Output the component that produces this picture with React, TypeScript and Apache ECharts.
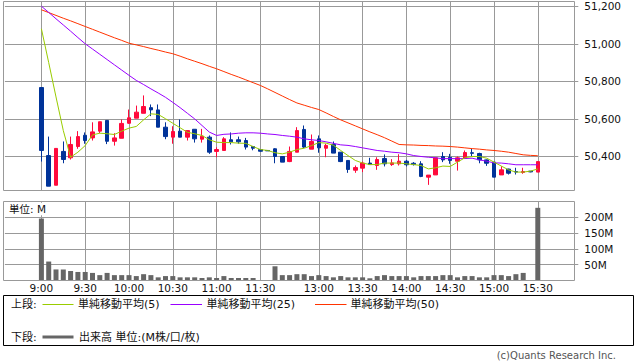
import React, { useEffect, useRef } from 'react';
import * as echarts from 'echarts';

// ---- data (5-minute bars, slot order) ----
const times = [
  '9:00','9:05','9:10','9:15','9:20','9:25','9:30','9:35','9:40','9:45','9:50','9:55',
  '10:00','10:05','10:10','10:15','10:20','10:25','10:30','10:35','10:40','10:45','10:50','10:55',
  '11:00','11:05','11:10','11:15','11:20','11:25','11:30','12:25',
  '12:30','12:35','12:40','12:45','12:50','12:55',
  '13:00','13:05','13:10','13:15','13:20','13:25','13:30','13:35','13:40','13:45','13:50','13:55',
  '14:00','14:05','14:10','14:15','14:20','14:25','14:30','14:35','14:40','14:45','14:50','14:55',
  '15:00','15:05','15:10','15:15','15:20','15:25','15:30'
];
const openP = [
  50767,50405,50247,50427,50393,50453,50513,50499,50535,50592,50481,50497,
  50577,50604,50630,50660,50648,50556,50503,50535,50503,50545,50492,50503,
  50427,50432,50489,50489,50485,50453,50437,50432,
  50441,50400,50373,50423,50544,50439,
  50494,50444,50464,50423,50379,50327,50338,50365,50352,50389,50357,50361,
  50375,50364,50361,50290,50302,50400,50396,50375,50391,50420,50416,50382,
  50370,50302,50333,50320,50315,50322,50317
];
const closeP = [
  50432,50242,50443,50384,50464,50506,50485,50531,50585,50481,50499,50576,
  50606,50636,50666,50648,50556,50506,50533,50503,50538,50494,50508,50423,
  50437,50494,50478,50478,50450,50444,50428,50430,
  50400,50370,50427,50538,50450,50480,
  50446,50459,50418,50373,50331,50341,50365,50357,50384,50361,50366,50375,
  50356,50357,50294,50301,50393,50382,50379,50393,50421,50417,50382,50364,
  50290,50329,50311,50317,50320,50318,50373
];
const lowP = [
  50373,50242,50247,50364,50384,50441,50468,50485,50524,50466,50458,50497,
  50574,50604,50630,50615,50556,50492,50468,50503,50485,50474,50474,50414,
  50396,50432,50464,50468,50437,50433,50426,50430,
  50364,50370,50370,50423,50445,50439,
  50420,50396,50418,50370,50313,50313,50317,50355,50329,50347,50350,50352,
  50347,50352,50290,50249,50302,50370,50361,50325,50389,50402,50364,50350,
  50290,50302,50304,50304,50308,50316,50317
];
const highP = [
  50767,50506,50443,50480,50506,50535,50528,50582,50585,50592,50524,50597,
  50650,50671,50725,50677,50677,50582,50561,50597,50538,50545,50547,50512,
  50449,50503,50528,50506,50499,50456,50439,50432,
  50444,50400,50453,50556,50565,50517,
  50512,50467,50480,50423,50379,50352,50373,50393,50396,50411,50386,50412,
  50382,50370,50375,50301,50393,50423,50414,50400,50432,50441,50420,50384,
  50370,50348,50335,50340,50340,50322,50373
];
const volumeM = [
  196,60,35,35,30,27,27,24,17,24,17,17,
  17,14,20,17,10,14,14,10,10,10,8,10,
  8,14,8,8,8,8,1.5,0,
  45,17,17,20,20,14,
  17,14,10,14,10,10,10,7,14,17,14,14,
  14,10,14,14,14,17,17,10,14,14,10,10,
  17,17,14,20,24,1,230
];
const ma5 = [
  51080,50900,50717,50538,50396,50423,50458,50515,50524,50521,50517,50535,
  50551,50560,50595,50627,50624,50601,50577,50553,50529,50521,50512,50489,
  50476,50474,50474,50471,50470,50453,50437,50432,
  50420,50414,50423,50437,50444,50458,
  50474,50471,50460,50432,50405,50379,50365,50357,50357,50365,50365,50365,
  50361,50357,50352,50334,50340,50349,50347,50370,50393,50400,50400,50391,
  50370,50349,50329,50317,50317,50322,50334
];
const ma25 = [
  51200,51167,51133,51100,51067,51033,51000,50972,50944,50916,50888,50860,
  50832,50805,50783,50760,50738,50715,50688,50660,50630,50600,50565,50530,
  50512,50518,50520,50524,50526,50526,50524,50520,
  50517,50512,50508,50503,50494,50489,
  50485,50478,50470,50462,50459,50453,50446,50439,50432,50428,50423,50420,
  50414,50405,50400,50396,50393,50388,50389,50388,50389,50391,50382,50375,
  50366,50365,50361,50356,50356,50356,50356
];
const ma50 = [
  51181,51166,51151,51136,51122,51107,51092,51077,51062,51047,51032,51018,
  51003,50994,50985,50975,50966,50956,50947,50934,50920,50907,50894,50880,
  50867,50852,50837,50823,50808,50793,50778,50760,
  50741,50722,50703,50685,50673,50661,
  50650,50632,50613,50595,50579,50563,50547,50531,50516,50500,50482,50464,
  50462,50461,50459,50458,50456,50455,50453,50450,50446,50442,50439,50435,
  50432,50428,50423,50416,50409,50406,50404
];
const timeLabels = ['9:00','9:30','10:00','10:30','11:00','11:30','13:00','13:30','14:00','14:30','15:00','15:30'];
const priceTicks = [50400, 50600, 50800, 51000, 51200];
const volumeTicks = [50, 100, 150, 200];

const PAD = 5;
const UP = '#ff0a3c';
const DOWN = '#003399';
const C5 = '#99cc00';
const C25 = '#9900ff';
const C50 = '#ff3300';
const GRID = '#999999';
const VOL = '#666666';
const NUM_FONT = '"DejaVu Sans", "Noto Sans CJK JP", sans-serif';
const JP_FONT = '"DejaVu Sans", "Noto Sans CJK JP", sans-serif';

function pad<T>(arr: T[], filler: any): any[] {
  const a = Array.from({ length: PAD }, (_, i) => (typeof filler === 'function' ? filler('a' + i) : filler));
  const b = Array.from({ length: PAD }, (_, i) => (typeof filler === 'function' ? filler('b' + i) : filler));
  return [...a, ...arr, ...b];
}

export default function App() {
  const ref = useRef<HTMLDivElement>(null);
  useEffect(() => {
    if (!ref.current) return;
    const chart = echarts.init(ref.current, undefined, { renderer: 'svg' });
    const cats = pad(times, (k: string) => k);
    const candleData = pad(
      times.map((_, i) => [openP[i], closeP[i], lowP[i], highP[i]]),
      ['-', '-', '-', '-']
    );
    const isLabel = (_i: number, v: string) => timeLabels.indexOf(v) >= 0;
    const gridL = 4.9;
    const gridW = 569.4;

    const text = (t: string, x: number, y: number, extra: any = {}) => ({
      type: 'text',
      x,
      y,
      z: 100,
      style: {
        text: t,
        fill: extra.fill || '#111',
        font: extra.font || `11px ${JP_FONT}`,
        align: extra.align || 'left',
        textAlign: extra.align || 'left',
        verticalAlign: 'middle',
        textVerticalAlign: 'middle',
        ...(extra.bg ? { backgroundColor: extra.bg, padding: [1, 2] } : {}),
      },
    });
    const line = (x1: number, x2: number, y: number, color: string, w = 1) => ({
      type: 'line',
      z: 100,
      shape: { x1, y1: y, x2, y2: y },
      style: { stroke: color, lineWidth: w },
    });

    chart.setOption({
      animation: false,
      backgroundColor: '#ffffff',
      grid: [
        { left: gridL, top: 1.5, width: gridW, height: 189 },
        { left: gridL, top: 201.5, width: gridW, height: 79 },
      ],
      xAxis: [
        {
          type: 'category', gridIndex: 0, data: cats, boundaryGap: false,
          axisLine: { show: false }, axisTick: { show: false }, axisLabel: { show: false },
          splitLine: { show: true, interval: isLabel, lineStyle: { color: GRID, width: 1 } },
        },
        {
          type: 'category', gridIndex: 1, data: cats, boundaryGap: false,
          axisLine: { show: false }, axisTick: { show: false },
          axisLabel: {
            show: true, interval: isLabel, margin: 2, color: '#111',
            fontSize: 10.5, fontFamily: NUM_FONT, formatter: (v: string) => v,
          },
          splitLine: { show: true, interval: isLabel, lineStyle: { color: GRID, width: 1 } },
        },
      ],
      yAxis: [
        {
          type: 'value', gridIndex: 0, position: 'right', min: 50219, max: 51225, scale: true,
          axisLine: { show: false },
          axisTick: { show: true, length: 4, lineStyle: { color: GRID }, customValues: priceTicks },
          axisLabel: {
            show: true, margin: 10, color: '#111', fontSize: 10.5, fontFamily: NUM_FONT,
            customValues: priceTicks,
            formatter: (v: number) => v.toLocaleString('en-US'),
          },
          splitLine: { show: true, lineStyle: { color: GRID, width: 1 } },
        },
        {
          type: 'value', gridIndex: 1, position: 'right', min: 0, max: 250, interval: 50,
          axisLine: { show: false },
          axisTick: { show: true, length: 4, lineStyle: { color: GRID }, customValues: volumeTicks },
          axisLabel: {
            show: true, margin: 10, color: '#111', fontSize: 10.5, fontFamily: NUM_FONT,
            customValues: volumeTicks,
            formatter: (v: number) => `${v}M`,
          },
          splitLine: { show: true, lineStyle: { color: GRID, width: 1 } },
        },
      ],
      series: [
        {
          type: 'candlestick', xAxisIndex: 0, yAxisIndex: 0, data: candleData, barWidth: 4,
          itemStyle: {
            color: UP, color0: DOWN, borderColor: UP, borderColor0: DOWN,
            borderColorDoji: DOWN, borderWidth: 1,
          },
          silent: true,
        },
        {
          type: 'line', xAxisIndex: 0, yAxisIndex: 0, data: pad(ma50, '-'), symbol: 'none',
          lineStyle: { color: C50, width: 1 }, silent: true,
        },
        {
          type: 'line', xAxisIndex: 0, yAxisIndex: 0, data: pad(ma25, '-'), symbol: 'none',
          lineStyle: { color: C25, width: 1 }, silent: true,
        },
        {
          type: 'line', xAxisIndex: 0, yAxisIndex: 0, data: pad(ma5, '-'), symbol: 'none',
          lineStyle: { color: C5, width: 1 }, silent: true,
        },
        {
          type: 'bar', xAxisIndex: 1, yAxisIndex: 1, data: pad(volumeM, '-'), barWidth: 5,
          itemStyle: { color: VOL }, silent: true,
        },
      ],
      graphic: [
        { type: 'rect', z: 50, shape: { x: 3.5, y: 1.5, width: 571, height: 189 }, style: { fill: 'none', stroke: GRID, lineWidth: 1 } },
        { type: 'rect', z: 50, shape: { x: 3.5, y: 201.5, width: 571, height: 79 }, style: { fill: 'none', stroke: GRID, lineWidth: 1 } },
        text('単位: M', 7, 209, { bg: '#ffffff', font: `10.5px ${JP_FONT}` }),
        { type: 'rect', z: 50, shape: { x: 3.5, y: 295.5, width: 630, height: 50 }, style: { fill: 'none', stroke: '#000', lineWidth: 1 } },
        text('上段:', 11, 304),
        line(42.5, 73.5, 304.5, C5),
        text('単純移動平均(5)', 78, 304),
        line(170.5, 202, 304.5, C25),
        text('単純移動平均(25)', 206.5, 304),
        line(315, 346.5, 304.5, C50),
        text('単純移動平均(50)', 350.5, 304),
        text('下段:', 11, 337),
        line(42.5, 73.5, 337, VOL, 3),
        text('出来高 単位:(M株/口/枚)', 79, 337),
        text('(c)Quants Research Inc.', 616, 355, { align: 'right', fill: '#555', font: `10px ${NUM_FONT}` }),
      ],
    });
    return () => chart.dispose();
  }, []);
  return (
    <div
      ref={ref}
      style={{ position: 'fixed', left: 0, top: 0, width: 638, height: 362, background: '#fff' }}
    />
  );
}
